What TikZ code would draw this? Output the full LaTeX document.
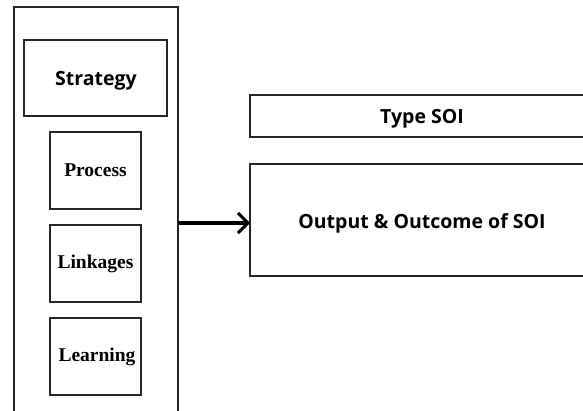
\documentclass[tikz,border=0pt]{standalone}
\usepackage{fontspec}
\setsansfont{Open Sans}
\newfontfamily\serifb{Liberation Serif}
\usetikzlibrary{arrows.meta}
\begin{document}
\begin{tikzpicture}[x=1pt,y=-1pt,
  box/.style={draw=black!85,line width=1.9pt,inner sep=0pt},
  sanslbl/.style={font=\sffamily\bfseries\fontsize{19.5}{22}\selectfont},
  seriflbl/.style={font=\serifb\bfseries\fontsize{19.5}{22}\selectfont}]
\fill[white] (0,0) rectangle (583,411);
\useasboundingbox (0,0) rectangle (583,411);
\clip (0,0) rectangle (583,411);
% outer frame
\draw[box] (178,430) -- (178,7) -- (14,7) -- (14,430);
\coordinate (outerE) at (178,223);
\node[box,minimum width=143pt,minimum height=76pt] (strategy) at (95.5,78) {};
\node[sanslbl] at (96,80.5) {Strategy};
\node[box,minimum width=91pt,minimum height=77pt,seriflbl] (process) at (95.5,170.5) {Process};
\node[box,minimum width=91pt,minimum height=77pt,seriflbl] (linkages) at (95.5,263.5) {Linkages};
\node[box,minimum width=91pt,minimum height=77pt] (learning) at (95.5,356.5) {};
\node[seriflbl] at (97,356.5) {Learning};
\draw[box] (250,95) rectangle (600,137);
\node[sanslbl] (type) at (422,119) {Type SOI};
\draw[box] (250,164) rectangle (600,276);
\coordinate (outW) at (250,223);
\node[sanslbl] (output) at (422,223.5) {Output \& Outcome of SOI};
\draw[line width=3.4pt,-{Straight Barb[length=10pt,width=20pt,line width=3pt]}] (outerE) -- (outW);
\end{tikzpicture}
\end{document}
